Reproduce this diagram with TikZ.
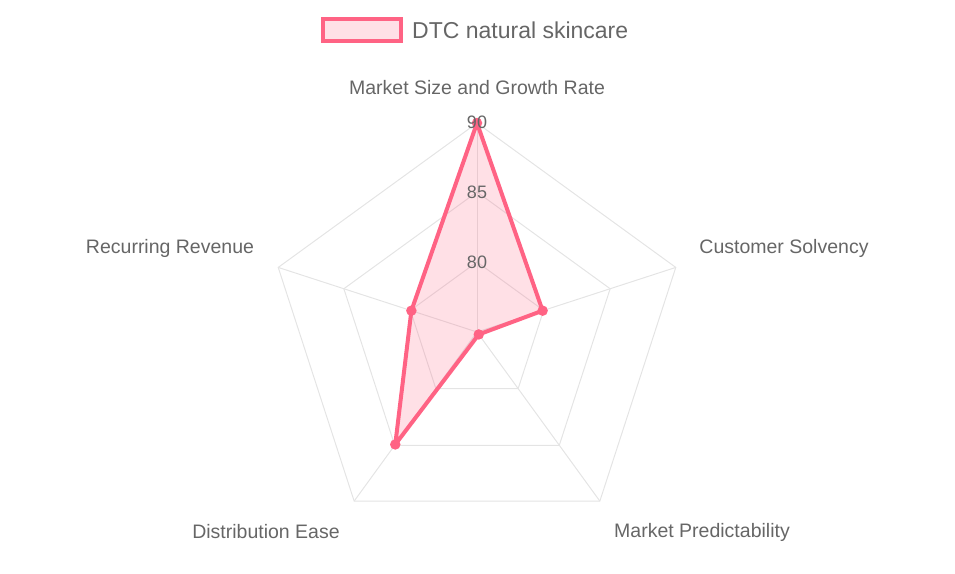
\documentclass[tikz,border=0pt]{standalone}
\usepackage{fontspec}
\setmainfont{Liberation Sans}
\usetikzlibrary{calc}
\definecolor{pk}{RGB}{255,99,132}
\definecolor{tx}{RGB}{102,102,102}
\definecolor{gr}{RGB}{228,228,228}
\begin{document}
\begin{tikzpicture}[x=1pt,y=-1pt,
  lab/.style={text=tx,font=\fontsize{19.5}{22}\selectfont,inner sep=0},
  tick/.style={text=tx,font=\fontsize{18}{20}\selectfont,inner sep=0},
  pt/.style={circle,fill=pk,inner sep=0,minimum size=10.5pt},
  grid/.style={draw=gr,line width=1pt}]
\useasboundingbox (0,0) rectangle (955,573);
\coordinate (c) at (477,332);
\foreach \r in {70,140,209}{
  \draw[grid] ($(c)+(-90:\r)$) -- ($(c)+(-18:\r)$) -- ($(c)+(54:\r)$) -- ($(c)+(126:\r)$) -- ($(c)+(198:\r)$) -- cycle;
}
\foreach \a in {-90,-18,54,126,198}{\draw[grid] (c) -- ($(c)+(\a:209)$);}
\coordinate (p1) at ($(c)+(0,-209)$);
\coordinate (p2) at ($(c)+(0.951*69,-0.309*69)$);
\coordinate (p3) at ($(c)+(0.588*3,0.809*3)$);
\coordinate (p4) at ($(c)+(-0.588*139,0.809*139)$);
\coordinate (p5) at ($(c)+(-0.951*69,-0.309*69)$);
\fill[pk,fill opacity=0.2] (p1) -- (p2) -- (p3) -- (p4) -- (p5) -- cycle;
\draw[pk,line width=4pt,line join=round] (p1) -- (p2) -- (p3) -- (p4) -- (p5) -- cycle;
\foreach \p in {p1,p2,p3,p4,p5}{\node[pt] at (\p) {};}
\node[tick] (t80) at (477,262) {80};
\node[tick] (t85) at (477,192) {85};
\node[tick] (t90) at (477,122) {90};
\node[lab] (l1) at (477,88) {Market Size and Growth Rate};
\node[lab] (l2) at (784,248) {Customer Solvency};
\node[lab] (l3) at (702,532) {Market Predictability};
\node[lab] (l4) at (266,532) {Distribution Ease};
\node[lab] (l5) at (170,248) {Recurring Revenue};
\draw[pk,line width=4pt,fill=pk!20] (323,19) rectangle (401,41);
\node[lab,anchor=west,font=\fontsize{23}{26}\selectfont] (leg) at (412,30) {DTC natural skincare};
\end{tikzpicture}
\end{document}
